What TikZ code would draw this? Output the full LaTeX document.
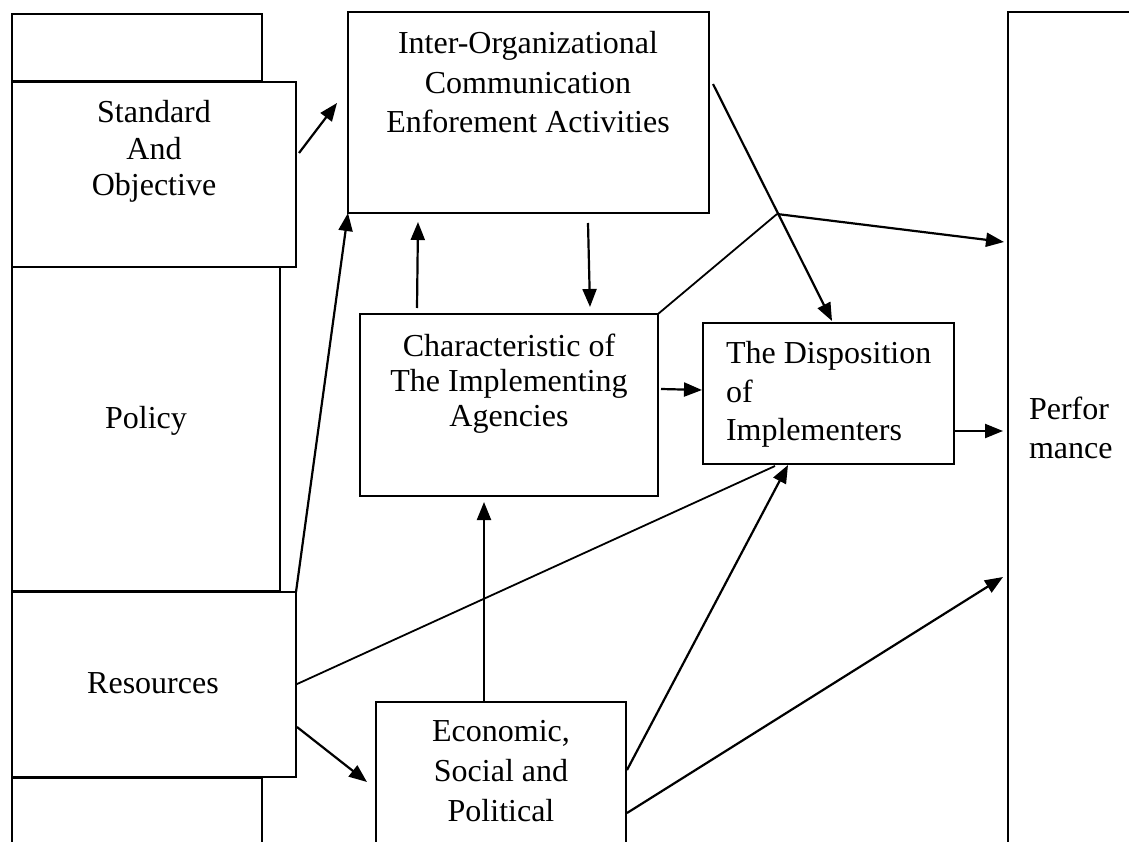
\documentclass[tikz,border=0pt]{standalone}
\usepackage{fontspec}
\setmainfont{Liberation Serif}
\usetikzlibrary{arrows.meta}
\begin{document}
\begin{tikzpicture}[x=1pt,y=-1pt,
  box/.style={draw,line width=2pt,inner sep=0pt,outer sep=0pt,anchor=north west},
  txt/.style={inner sep=0pt,outer sep=0pt,align=center,anchor=north},
  arr/.style={line width=2.2pt,-{Triangle[length=18pt,width=14pt]}},
  ln/.style={line width=1.8pt}]
\useasboundingbox (0,0) rectangle (1129,842);
\fill[white] (0,0) rectangle (1129,842);
% boxes
\node[box,minimum width=250pt,minimum height=67pt] (topbox) at (12,14) {};
\node[box,minimum width=284pt,minimum height=185pt] (std) at (12,82) {};
\node[box,minimum width=268pt,minimum height=324pt] (pol) at (12,267) {};
\node[box,minimum width=284pt,minimum height=185pt] (res) at (12,592) {};
\node[box,minimum width=250pt,minimum height=120pt] (botbox) at (12,778) {};
\node[box,minimum width=361pt,minimum height=201pt] (inter) at (348,12) {};
\node[box,minimum width=298pt,minimum height=182pt] (chr) at (360,314) {};
\node[box,minimum width=251pt,minimum height=141pt] (disp) at (703,323) {};
\node[box,minimum width=250pt,minimum height=180pt] (eco) at (376,702) {};
\node[box,minimum width=200pt,minimum height=900pt] (perf) at (1008,12) {};
% texts
\node[txt,font=\fontsize{32}{36.5}\selectfont] (stdtxt) at (154,100.5) {Standard\\And\\Objective};
\node[txt,anchor=base,font=\fontsize{32}{38}\selectfont] (poltxt) at (146,428) {Policy};
\node[txt,anchor=base,font=\fontsize{32}{38}\selectfont] (restxt) at (153,693) {Resources};
\node[txt,font=\fontsize{32}{39.5}\selectfont] (intertxt) at (528,31.5) {Inter-Organizational\\Communication\\Enforement Activities};
\node[txt,font=\fontsize{32}{35}\selectfont] (chrtxt) at (509,333.5) {Characteristic of\\The Implementing\\Agencies};
\node[txt,align=left,anchor=north west,font=\fontsize{32}{38.5}\selectfont] (disptxt) at (726,341.5) {The Disposition\\of\\Implementers};
\node[txt,font=\fontsize{32}{40}\selectfont] (ecotxt) at (501,720.5) {Economic,\\Social and\\Political};
\node[txt,align=left,anchor=north west,font=\fontsize{32}{39}\selectfont] (perftxt) at (1029,396.5) {Perfor\\mance};
% free connector ends
\coordinate (a1s) at (299,153);  \coordinate (a1e) at (337,103);
\coordinate (a3s) at (417,308);  \coordinate (a3e) at (418,222);
\coordinate (a4s) at (588,223);  \coordinate (a4e) at (590,307);
\coordinate (jn)  at (777,214);
\coordinate (a6e) at (1004,242);
\coordinate (a7s) at (713,84);   \coordinate (a7e) at (832,321);
\coordinate (a8s) at (661,389);  \coordinate (a8e) at (702,390);
\coordinate (a9s) at (955,431);  \coordinate (a9e) at (1003,431);
\coordinate (l10e) at (775,466);
\coordinate (a11s) at (297,727); \coordinate (a11e) at (367,782);
\coordinate (a12s) at (484,702); \coordinate (a12e) at (484,502);
\coordinate (a13s) at (627,770); \coordinate (a13e) at (788,465);
\coordinate (a14s) at (627,813); \coordinate (a14e) at (1003,577);
% connectors
\draw[arr] (a1s) -- (a1e);
\draw[arr] (res.north east) -- (inter.south west);
\draw[arr] (a3s) -- (a3e);
\draw[arr] (a4s) -- (a4e);
\draw[ln] (chr.north east) -- (jn);
\draw[arr] (jn) -- (a6e);
\draw[arr] (a7s) -- (a7e);
\draw[arr] (a8s) -- (a8e);
\draw[arr] (a9s) -- (a9e);
\draw[ln] (res.east) -- (l10e);
\draw[arr] (a11s) -- (a11e);
\draw[arr] (a12s) -- (a12e);
\draw[arr] (a13s) -- (a13e);
\draw[arr] (a14s) -- (a14e);
\end{tikzpicture}
\end{document}
